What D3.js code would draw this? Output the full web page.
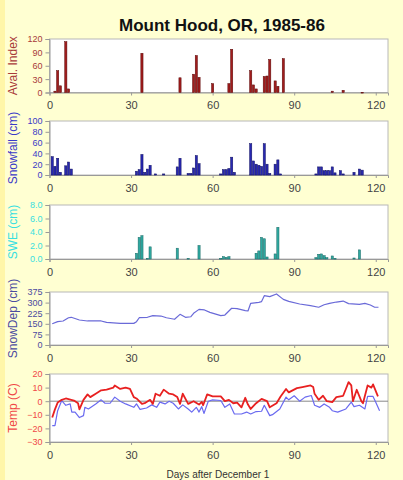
<!DOCTYPE html>
<html>
<head>
<meta charset="utf-8">
<script src="https://cdn.jsdelivr.net/npm/d3@7"></script>
<style>
  body { margin: 0; background: #ffffd2; }
  svg { display: block; font-family: Arial, "Liberation Sans", sans-serif; }
</style>
</head>
<body>
<svg id="chart" width="403" height="480"></svg>
<script>
// --- data ---
const title = "Mount Hood, OR, 1985-86";
const dayTicks = [0, 30, 60, 90, 120];

const avalDays = [2, 3, 4, 6, 7, 34, 48, 53, 54, 55, 60, 66, 67, 74, 75, 76, 79, 80, 81, 83, 84, 86, 104, 108, 115];
const avalVals = [3, 49, 15, 114, 8, 88, 33, 41, 83, 34, 20, 20, 97, 49, 17, 8, 36, 37, 74, 26, 14, 76, 3, 5, 0.5];

const snowDays = [1, 2, 3, 4, 6, 7, 8, 32, 33, 34, 35, 36, 37, 39, 42, 47, 48, 51, 52, 53, 54, 55,
                  63, 64, 65, 66, 67, 68, 74, 75, 76, 77, 78, 79, 80, 81, 83, 84, 85,
                  98, 99, 100, 101, 102, 103, 104, 105, 107, 108, 112, 114, 115];
const snowVals = [34, 16, 31, 5, 17, 24, 11, 7, 10, 38, 5, 11, 18, 2, 2, 15, 31, 3, 3, 13, 36, 21,
                  2, 10, 10, 12, 33, 5, 58, 26, 20, 18, 16, 58, 20, 3, 20, 28, 2,
                  2, 15, 15, 8, 8, 8, 15, 4, 8, 2, 5, 11, 9];

const sweDays = [32, 33, 34, 36, 37, 47, 51, 55, 63, 64, 65, 66, 76, 77, 78, 79, 80, 83, 84,
                 98, 99, 100, 101, 102, 104, 105, 112, 114];
const sweVals = [0.85, 3.2, 3.45, 0.1, 1.8, 1.6, 0.1, 2.0, 0.1, 0.35, 0.25, 0.35, 0.85, 1.2, 3.2, 3.0, 0.3, 0.75, 4.7,
                 0.2, 0.7, 0.75, 0.5, 0.2, 0.45, 0.1, 0.15, 1.35];

const depthDays = [1, 3, 5, 7, 8, 11, 14, 19, 21, 26, 31, 32, 33, 36, 38, 41, 43, 46, 48, 50, 52, 53, 55, 57, 59,
                   63, 64.5, 67, 69, 72, 73, 74, 77, 78, 79, 81, 83.5, 86, 88, 92, 96, 99, 101, 103, 105.5,
                   108, 110, 114, 116, 118, 119.6, 121];
const depthVals = [150, 165, 170, 193, 196, 177, 170, 170, 160, 153, 153, 165, 193, 196, 208, 205, 193, 182, 217, 196, 200, 224, 252, 248, 231,
                   208, 212, 260, 257, 243, 241, 295, 302, 307, 349, 342, 361, 323, 309, 290, 278, 267, 285, 295, 304,
                   311, 293, 288, 295, 283, 267, 267];

const tmaxDays = [1, 2, 3, 4.5, 6, 9, 10.5, 11, 12.5, 14, 15, 17, 19, 21, 23.5, 24, 26, 28, 29.6, 31, 32, 34, 35, 37, 38,
                  39, 40.6, 42, 44, 45.5, 47, 48, 49, 51, 53, 55, 56, 56.5, 58, 60, 63, 64.5, 66, 67.6, 69, 70.6,
                  72, 73, 74, 76, 78, 80, 81, 83.5, 85, 87, 88, 91, 93, 96, 97, 97.5, 99, 100.6, 102, 104,
                  105.5, 108, 109, 110, 111, 111.6, 113, 114.7, 115.3, 117, 118.4, 119, 120.8];
const tmaxVals = [-12, -6, -1, 1, 2, 0.5, -1.5, -6, 1, 5, 3, 5.5, 8, 8.5, 10, 11.5, 9, 10, 9, 3, 2, -2, -1.5, 1, -2,
                  5.5, 4, 8.5, 5.5, 5, 3, -2, 5.5, -2, 0, -2.5, -0.5, -3, 5, 3.5, 3.5, 0, 1, -1.5, -1, -4.5,
                  2.5, -2.5, -5.7, -1.5, 1.7, 0, -4.5, -1.5, 3.5, 9, 6.5, 9.6, 10.4, 11.6, 10.4, 5.4, 1, 4, 0, -0.7,
                  3, 4, 9, 14, 11.6, 0, 8.4, 0, -1.5, 11.6, 10, 12.4, 3.5];

const tminDays = [1, 2, 3, 4.5, 6, 7.6, 8.2, 9.4, 11, 12.5, 13, 14.3, 17, 19, 20.4, 22.3, 24, 26, 28, 31, 32, 33.3,
                  35.7, 37.6, 39.4, 40.6, 42.5, 44, 45.5, 47.4, 49, 51, 52.3, 54, 55, 56, 56.8, 58.4, 60, 63,
                  64.5, 66.3, 68, 70.6, 72.5, 74, 76, 78, 79, 81, 82, 84.7, 87, 88, 90, 92, 94, 96.3, 97.5,
                  99.4, 101, 103, 104, 106, 109, 111, 112, 114, 116, 117, 119, 120, 121.4];
const tminVals = [-18, -18, -7, 0.5, -3, -2, -8, -8, -12, -10.6, -4.5, -5.7, -2, 1, -1.5, -1.5, 3, 0, -2, -4.5, -2, -6,
                  -5, -2.7, -4.5, -0.7, -2, 0, -1.5, -5.7, -2.7, -5.7, -8, -4.5, -8, -4, -9, 0, 1, 0.5,
                  -4.5, -2, -9.4, -9.4, -8, -9.4, -7.6, -7.4, -3, -10.6, -9.9, -5.7, 3, 1, 4, 0, 3, 4.2, -3,
                  -4.5, -2, -4.5, -7, -8, -5.7, -0.7, -4, -3, -5.7, 3.5, 3.5, -0.7, -7];

// --- layout ---
const svg = d3.select("#chart");
const left = 49.5, right = 388;
const x = d3.scaleLinear().domain([0, 124.5]).range([left, right]);

svg.append("rect").attr("width", 403).attr("height", 480).attr("fill", "#ffffd2");
svg.append("rect").attr("width", 5).attr("height", 480).attr("fill", "#fff6a8");

svg.append("text")
    .attr("x", 222).attr("y", 31)
    .attr("text-anchor", "middle")
    .style("font-size", "17px").style("font-weight", "bold")
    .attr("fill", "#111")
    .text(title);

const panels = [
  {label: "Aval. Index", top: 39, bottom: 92.5, domain: [0, 120], ticks: [0, 30, 60, 90, 120], fmt: d3.format("d"),
   color: "#a83a3a", tickColor: "#a83a3a"},
  {label: "Snowfall (cm)", top: 121, bottom: 175, domain: [0, 100], ticks: [0, 20, 40, 60, 80, 100], fmt: d3.format("d"),
   color: "#3a3ac8", tickColor: "#3a3ac8"},
  {label: "SWE (cm)", top: 205, bottom: 259, domain: [0, 8], ticks: [0, 2, 4, 6, 8], fmt: d3.format(".1f"),
   color: "#38e0e0", tickColor: "#38e0e0"},
  {label: "SnowDep (cm)", top: 292, bottom: 345, domain: [0, 375], ticks: [0, 75, 150, 225, 300, 375], fmt: d3.format("d"),
   color: "#4b4ba0", tickColor: "#4b4ba0"},
  {label: "Temp (C)", top: 374, bottom: 442, domain: [-30, 20], ticks: [-30, -20, -10, 0, 10, 20], fmt: d3.format("d"),
   color: "#f04848", tickColor: "#f04848"}
];

panels.forEach(function(p) {
    p.y = d3.scaleLinear().domain(p.domain).range([p.bottom, p.top]);
    let g = svg.append("g");
    g.append("rect")
        .attr("x", left).attr("y", p.top)
        .attr("width", right - left).attr("height", p.bottom - p.top)
        .attr("fill", "#ffffff").attr("stroke", "#b8b8b8").attr("stroke-width", 1);

    let ya = g.append("g").attr("transform", "translate(" + left + ",0)")
        .call(d3.axisLeft(p.y).tickValues(p.ticks).tickFormat(p.fmt).tickSize(4).tickPadding(3));
    ya.select(".domain").attr("stroke", "#999");
    ya.selectAll(".tick line").attr("stroke", "#999");
    ya.selectAll(".tick text").attr("fill", p.tickColor).style("font-size", "9px")
        .style("font-family", "Arial, 'Liberation Sans', sans-serif");

    let xa = g.append("g").attr("transform", "translate(0," + p.bottom + ")")
        .call(d3.axisBottom(x).tickValues(dayTicks).tickSize(3).tickPadding(6));
    xa.select(".domain").attr("stroke", "#999");
    xa.selectAll(".tick line").attr("stroke", "#999");
    xa.selectAll(".tick text").attr("fill", "#444").style("font-size", "11px")
        .style("font-family", "Arial, 'Liberation Sans', sans-serif");

    svg.append("text")
        .attr("transform", "translate(13," + ((p.top + p.bottom) / 2) + ") rotate(-90)")
        .attr("text-anchor", "middle")
        .attr("dy", "0.35em")
        .style("font-size", "12px")
        .attr("fill", p.color)
        .text(p.label);
});

function drawBars(p, days, vals, fill, stroke) {
    svg.append("g").selectAll("rect")
        .data(days.map(function(d, i) { return [d, vals[i]]; }))
        .enter().append("rect")
        .attr("x", function(d) { return x(d[0]) - 1.1; })
        .attr("width", 2.2)
        .attr("y", function(d) { return p.y(d[1]); })
        .attr("height", function(d) { return Math.max(0.8, p.bottom - p.y(d[1])); })
        .attr("fill", fill)
        .attr("stroke", stroke).attr("stroke-width", 0.5);
}

drawBars(panels[0], avalDays, avalVals, "#a01c1c", "#5a0a0a");
drawBars(panels[1], snowDays, snowVals, "#2828b0", "#101060");
drawBars(panels[2], sweDays, sweVals, "#2fa8a0", "#1a6a66");

function drawLine(p, days, vals, color, width) {
    let line = d3.line()
        .x(function(d) { return x(d[0]); })
        .y(function(d) { return p.y(d[1]); });
    svg.append("path")
        .datum(days.map(function(d, i) { return [d, vals[i]]; }))
        .attr("d", line)
        .attr("fill", "none")
        .attr("stroke", color)
        .attr("stroke-width", width)
        .attr("stroke-linejoin", "round");
}

// zero line in temperature panel
svg.append("line")
    .attr("x1", left).attr("x2", right)
    .attr("y1", panels[4].y(0)).attr("y2", panels[4].y(0))
    .attr("stroke", "#888").attr("stroke-width", 1);

drawLine(panels[3], depthDays, depthVals, "#6a6ad8", 1.2);
drawLine(panels[4], tminDays, tminVals, "#6a6af0", 1.2);
drawLine(panels[4], tmaxDays, tmaxVals, "#e82020", 1.8);

svg.append("text")
    .attr("x", 218).attr("y", 478)
    .attr("text-anchor", "middle")
    .style("font-size", "10px")
    .attr("fill", "#333")
    .text("Days after December 1");
</script>
</body>
</html>
